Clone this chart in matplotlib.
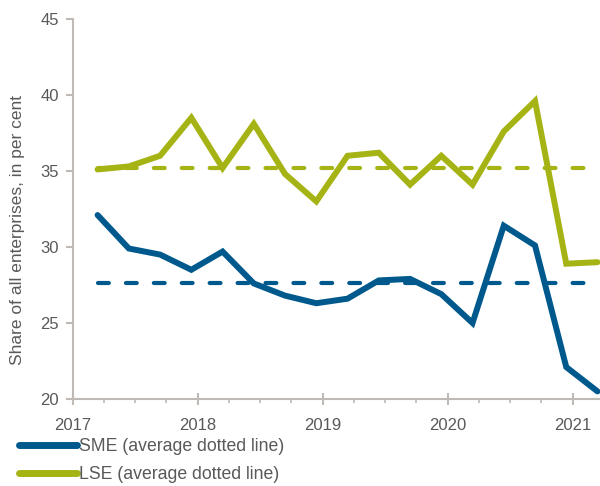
import numpy as np
import matplotlib
matplotlib.use("Agg")
import matplotlib.pyplot as plt
from matplotlib.ticker import MultipleLocator

plt.rcParams['font.family'] = ['Liberation Sans', 'DejaVu Sans']

# quarterly observations, Q1 2017 .. Q1 2021
quarters = [2017.2, 2017.45, 2017.7, 2017.95, 2018.2, 2018.45, 2018.7, 2018.95,
            2019.2, 2019.45, 2019.7, 2019.95, 2020.2, 2020.45, 2020.7, 2020.95, 2021.2]
sme = [32.1, 29.9, 29.5, 28.5, 29.7, 27.6, 26.8, 26.3,
       26.6, 27.8, 27.9, 26.9, 25.0, 31.4, 30.1, 22.1, 20.5]
lse = [35.1, 35.3, 36.0, 38.5, 35.2, 38.1, 34.8, 33.0,
       36.0, 36.2, 34.1, 36.0, 34.1, 37.6, 39.6, 28.9, 29.0]
sme_avg = 27.6
lse_avg = 35.2
avg_span = [2017.2, 2021.12]

blue = '#00598C'
green = '#A5B414'
grey_txt = '#595959'
grey_ax = '#BFBAB5'

fig = plt.figure(figsize=(6, 4.86), dpi=100)
ax = fig.add_axes([0.121, 0.179, 0.879, 0.782])

ax.plot(quarters, sme, color=blue, lw=4.3, solid_joinstyle='miter', solid_capstyle='round',
        label='SME (average dotted line)')
ax.plot(quarters, lse, color=green, lw=4.3, solid_joinstyle='miter', solid_capstyle='round',
        label='LSE (average dotted line)')
ax.plot(avg_span, [sme_avg, sme_avg], color=blue, lw=3, dashes=(2.6, 4.1),
        dash_capstyle='round')
ax.plot(avg_span, [lse_avg, lse_avg], color=green, lw=3, dashes=(2.6, 4.1),
        dash_capstyle='round')

ax.set_xlim(2017, 2021.22)
ax.set_ylim(20, 45)
ax.xaxis.set_major_locator(MultipleLocator(1))
ax.xaxis.set_minor_locator(MultipleLocator(0.25))
ax.yaxis.set_major_locator(MultipleLocator(5))
ax.xaxis.set_major_formatter(plt.FuncFormatter(lambda v, p: f'{int(round(v))}'))

for s in ['top', 'right']:
    ax.spines[s].set_visible(False)
for s in ['left', 'bottom']:
    ax.spines[s].set_color(grey_ax)
    ax.spines[s].set_linewidth(1.5)

ax.tick_params(axis='x', which='major', direction='inout', length=9, width=1.5,
               color=grey_ax, labelsize=12, labelcolor=grey_txt, pad=9)
ax.tick_params(axis='x', which='minor', direction='out', length=3, width=1.2, color=grey_ax)
ax.tick_params(axis='y', which='major', direction='out', length=5, width=1.5,
               color=grey_ax, labelsize=12, labelcolor=grey_txt, pad=5)

ax.set_ylabel('Share of all enterprises, in per cent', fontsize=12.5, color=grey_txt)
ax.yaxis.set_label_coords(-0.09, 0.446)

leg = fig.legend(loc='upper left', bbox_to_anchor=(0.032, 0.098), frameon=False,
                 fontsize=12.7, handlelength=3.25, handletextpad=0.15, labelspacing=0.62,
                 borderaxespad=0, borderpad=0)
for t in leg.get_texts():
    t.set_color(grey_txt)
for h in leg.get_lines():
    h.set_linewidth(5)

fig.savefig('out.png', dpi=100)
